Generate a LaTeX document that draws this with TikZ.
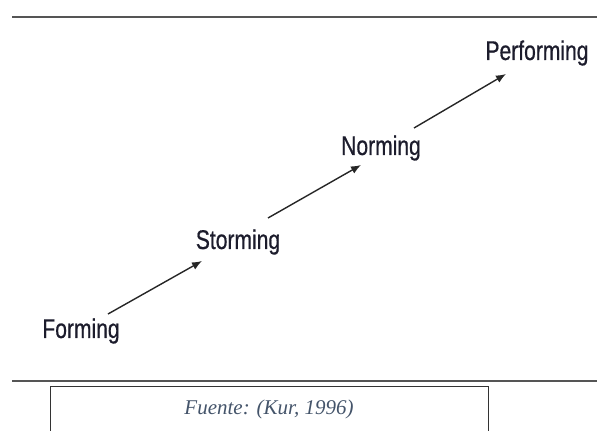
\documentclass[tikz,border=0pt]{standalone}
\usepackage{fontspec}
\setmainfont{Liberation Serif}
\newfontfamily\stagefont[FakeStretch=0.78,FakeBold=0.6]{Liberation Sans}
\usetikzlibrary{arrows.meta}
\definecolor{stagetext}{HTML}{1C1C2C}
\definecolor{rulegray}{HTML}{555555}
\definecolor{notegray}{HTML}{44546A}
\tikzset{
  x=1pt, y=-1pt,
  stage/.style={font=\stagefont\fontsize{27}{30}\selectfont, text=stagetext, inner sep=0pt, anchor=center},
  link/.style={draw=black!85, line width=1.4pt, -{Latex[length=10pt,width=8pt]}},
  rulebar/.style={draw=rulegray, line width=2.4pt},
}
\begin{document}
\begin{tikzpicture}
\useasboundingbox (0,0) rectangle (597,431);
\coordinate (tl) at (12,17);
\coordinate (tr) at (597,17);
\draw[rulebar] (tl) -- (tr);
\coordinate (bl) at (12,381);
\coordinate (br) at (597,381);
\draw[rulebar] (bl) -- (br);
\node[draw=black!80, line width=0.8pt, minimum width=438pt, minimum height=50pt, anchor=north west, inner sep=0pt] (note) at (50,386) {};
\node[font=\itshape\fontsize{21}{24}\selectfont, text=notegray] (fuente) at (269,409) {Fuente: (Kur, 1996)};
\node[stage] (forming) at (81,331) {Forming};
\node[stage] (storming) at (238,242) {Storming};
\node[stage] (norming) at (381,148) {Norming};
\node[stage] (performing) at (537,53) {Performing};
\coordinate (a1) at (108,314);
\coordinate (b1) at (202,261);
\coordinate (a2) at (268,218);
\coordinate (b2) at (361,165);
\coordinate (a3) at (414,128);
\coordinate (b3) at (506,74);
\draw[link] (a1) -- (b1);
\draw[link] (a2) -- (b2);
\draw[link] (a3) -- (b3);
\end{tikzpicture}
\end{document}
